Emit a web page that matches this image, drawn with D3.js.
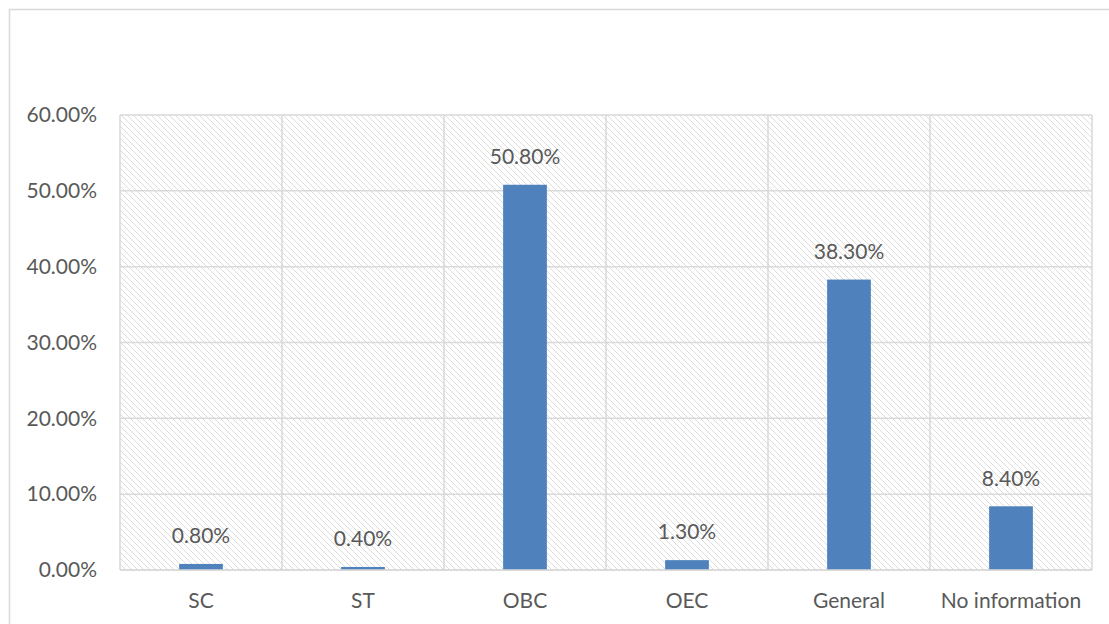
<!DOCTYPE html>
<html><head><meta charset="utf-8">
<script src="https://cdn.jsdelivr.net/npm/d3@7"></script>
<style>body{margin:0;background:#fff;}svg{display:block;}</style>
</head><body>
<svg id="chart" width="1109" height="624"></svg>
<script>
const categories = ["SC","ST","OBC","OEC","General","No information"];
const values = [0.008,0.004,0.508,0.013,0.383,0.084];
const yTicks = [0,0.1,0.2,0.3,0.4,0.5,0.6];

const svg = d3.select("#chart");
const W = 1109, H = 624;
const m = {left:120, right:17, top:115, bottom:54};
const font = "Lato, 'Open Sans', sans-serif";
const fs = "21px";
const textColor = "#595959";

const defs = svg.append("defs");
const pat = defs.append("pattern").attr("id","hatch").attr("patternUnits","userSpaceOnUse")
  .attr("width",6).attr("height",6);
pat.append("rect").attr("width",6).attr("height",6).attr("fill","#fff");
pat.append("path").attr("d","M-1,-1 L7,7 M-1,5 L1,7 M5,-1 L7,1").attr("stroke","#dcdcdc").attr("stroke-width",1);

// outer frame
svg.append("rect").attr("x",9.5).attr("y",9.5).attr("width",W+20).attr("height",H+20)
  .attr("fill","none").attr("stroke","#d9d9d9").attr("stroke-width",1.5);

const x = d3.scaleBand().domain(categories).range([m.left, W-m.right]).paddingInner(0).paddingOuter(0);
const y = d3.scaleLinear().domain([0,0.6]).range([H-m.bottom, m.top]);

svg.append("rect").attr("x",m.left).attr("y",m.top).attr("width",W-m.right-m.left).attr("height",H-m.bottom-m.top)
  .attr("fill","url(#hatch)");

// gridlines
svg.append("g").selectAll("line").data(yTicks).join("line")
  .attr("x1",m.left).attr("x2",W-m.right).attr("y1",d=>y(d)).attr("y2",d=>y(d))
  .attr("stroke","#d9d9d9").attr("stroke-width",1.5);
const vlines = categories.map(c=>x(c)).concat([W-m.right]);
svg.append("g").selectAll("line").data(vlines).join("line")
  .attr("x1",d=>d).attr("x2",d=>d).attr("y1",m.top).attr("y2",H-m.bottom)
  .attr("stroke","#d9d9d9").attr("stroke-width",1.5);

// y axis labels
const yAxis = d3.axisLeft(y).tickValues(yTicks).tickFormat(d=>d3.format(".2%")(d)).tickSize(0).tickPadding(23);
const ya = svg.append("g").attr("transform",`translate(${m.left},0)`).call(yAxis);
ya.select(".domain").remove();
ya.selectAll("text").attr("fill",textColor).style("font-family",font).style("font-size",fs);

// x axis labels
const xAxis = d3.axisBottom(x).tickSize(0).tickPadding(23);
const xa = svg.append("g").attr("transform",`translate(0,${H-m.bottom})`).call(xAxis);
xa.select(".domain").remove();
xa.selectAll("text").attr("fill",textColor).style("font-family",font).style("font-size",fs);

// bars
const bw = x.bandwidth()*0.27;
svg.append("g").selectAll("rect").data(values).join("rect")
  .attr("x",(d,i)=>x(categories[i])+x.bandwidth()/2-bw/2)
  .attr("width",bw)
  .attr("y",d=>y(d)).attr("height",d=>y(0)-y(d))
  .attr("fill","#4f81bd");

// value labels
svg.append("g").selectAll("text").data(values).join("text")
  .attr("x",(d,i)=>x(categories[i])+x.bandwidth()/2)
  .attr("y",d=>y(d)-26)
  .attr("text-anchor","middle").attr("dominant-baseline","middle")
  .attr("fill",textColor).style("font-family",font).style("font-size",fs)
  .text(d=>d3.format(".2%")(d));

// redraw bottom axis line over bars
svg.append("line").attr("x1",m.left).attr("x2",W-m.right).attr("y1",y(0)).attr("y2",y(0))
  .attr("stroke","#d9d9d9").attr("stroke-width",1.5);
</script>
</body></html>
